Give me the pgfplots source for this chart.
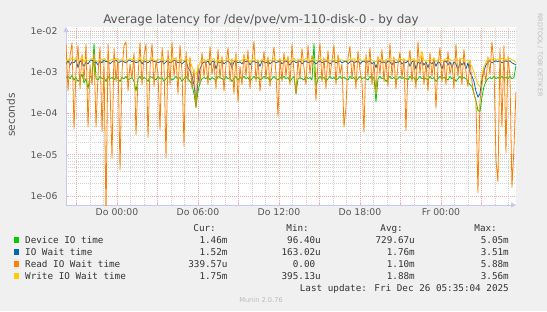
\documentclass[border=0pt]{standalone}
\usepackage{pgfplots}
\usepackage{pgfplotstable}
\pgfplotsset{compat=1.18}
\usepackage{fontspec}
\setmainfont{DejaVu Sans}
\newfontfamily\monofont{DejaVu Sans Mono}
\usetikzlibrary{arrows.meta}
\definecolor{bgc}{HTML}{F0F0F0}
\definecolor{cdev}{HTML}{00CC00}
\definecolor{cio}{HTML}{0066B3}
\definecolor{crd}{HTML}{FF8000}
\definecolor{cwr}{HTML}{FFCC00}
\definecolor{majgrid}{RGB}{238,175,175}
\definecolor{mingrid}{RGB}{210,210,210}
\definecolor{axiscol}{RGB}{200,200,240}
\definecolor{txt}{HTML}{555555}
\definecolor{legtxt}{HTML}{333333}
\definecolor{wm}{HTML}{BBBBBB}

% values in milliseconds, one row every ~8.9 minutes from Wed 20:13
\pgfplotstableread{
dev io rd wr
0.75 1.6 4.8 1.8
0.8 1.9 0.35 2.1
0.7 1.5 2.5 1.9
0.85 1.8 5.2 2.2
0.65 1.7 0.042 2.0
0.75 2.0 1.2 2.3
0.6 1.3 4.5 1.9
0.7 1.9 0.4 2.0
0.9 1.7 2.8 2.4
0.55 1.4 0.6 1.8
0.7 1.8 4.9 2.1
0.4 1.6 0.047 1.9
0.8 1.9 1.5 2.0
0.75 2.0 0.5 2.2
5.0 1.7 3.2 2.0
0.7 1.8 0.047 1.9
0.65 1.5 0.9 1.8
0.8 1.9 4.2 2.1
0.7 1.7 0.036 2.0
0.75 2.0 1.8 2.2
0.6 1.8 0.0003 1.9
0.8 1.9 5.0 2.0
0.7 1.6 0.4 1.9
0.75 1.8 0.0083 2.1
0.65 1.9 3.8 2.0
0.8 2.0 0.6 2.2
0.7 1.7 2.2 1.9
0.6 1.8 0.0043 2.0
0.75 1.9 1.1 2.1
0.7 1.8 4.5 2.0
0.8 1.7 5.5 1.9
0.65 1.9 0.35 2.0
0.7 2.0 1.6 2.2
0.75 1.8 0.7 2.0
0.6 1.9 3.0 2.1
0.35 1.7 0.03 1.9
0.7 1.8 0.8 2.0
0.8 2.0 5.3 2.3
0.65 1.6 0.5 1.9
0.75 1.9 2.6 2.0
0.7 1.8 4.8 2.1
0.6 1.7 0.026 1.9
0.8 1.9 1.3 2.0
0.75 2.0 5.0 2.2
0.7 1.8 0.45 2.0
0.65 1.9 2.0 1.9
0.8 1.7 0.9 2.1
0.7 1.8 0.04 2.0
0.75 1.9 4.0 2.2
0.6 1.6 1.4 1.9
0.7 1.8 0.0083 2.0
0.8 1.9 3.5 2.1
0.75 1.7 0.5 2.0
0.65 1.8 5.4 1.9
0.7 2.0 0.8 2.2
0.8 1.9 2.3 2.0
0.7 1.7 0.3 1.9
0.75 1.8 4.6 2.1
0.6 1.6 1.0 2.0
0.7 1.8 0.016 1.9
0.8 1.9 3.3 2.2
0.7 1.3 0.6 2.0
0.6 1.1 2.4 1.8
0.5 0.8 0.4 1.4
0.3 0.5 1.2 1.0
0.14 0.19 0.14 0.9
0.35 0.6 1.5 1.3
0.55 1.2 0.5 1.7
0.7 1.6 3.0 2.0
0.75 1.8 0.8 2.1
0.7 1.7 2.0 1.9
0.8 1.9 0.5 2.1
0.65 1.5 4.2 1.8
0.75 1.8 0.9 2.0
0.7 1.9 1.8 2.2
0.6 1.2 0.4 1.7
0.8 1.8 3.6 2.0
0.75 1.7 0.7 1.9
0.7 1.9 2.5 2.1
0.65 1.6 0.35 1.9
0.8 1.8 1.5 2.0
0.7 1.9 4.0 2.2
0.75 1.7 0.6 2.0
0.6 1.3 2.2 1.8
0.7 1.8 0.3 2.0
0.8 1.9 3.1 2.1
0.65 1.7 0.19 1.9
0.75 1.8 1.4 2.0
0.7 1.6 0.5 1.9
0.8 1.9 2.8 2.2
0.7 1.8 0.8 2.0
0.75 1.9 3.5 2.1
0.6 1.5 0.4 1.8
0.7 1.8 1.9 2.0
0.8 1.9 5.6 2.3
0.7 1.7 0.6 1.9
0.75 1.8 2.0 2.0
0.65 1.4 0.35 1.8
0.7 1.9 1.2 2.1
0.8 1.8 3.2 2.0
0.7 1.7 0.7 1.9
0.75 1.9 2.4 2.1
0.6 1.6 0.45 1.9
0.7 1.8 1.6 2.0
0.8 1.9 4.1 2.2
0.7 1.7 0.9 2.0
0.65 1.8 0.086 1.9
0.75 1.9 2.2 2.1
0.7 1.6 0.6 1.9
0.8 1.8 3.0 2.0
0.7 1.9 0.8 2.1
0.75 1.7 2.5 2.0
0.6 1.5 0.5 1.8
0.7 1.8 4.8 2.0
0.8 1.9 1.0 2.2
0.3 1.7 0.3 1.9
0.7 1.8 2.1 2.0
0.75 1.9 0.7 2.1
0.7 1.6 3.8 1.9
0.65 1.8 1.3 2.0
0.8 1.9 0.5 2.2
0.7 1.7 4.5 2.0
0.75 1.8 0.9 1.9
0.65 1.9 2.6 2.1
5.0 1.8 1.5 2.0
0.45 1.6 0.21 1.9
0.7 1.8 1.8 2.0
0.8 1.9 5.0 2.2
0.7 1.7 0.6 2.0
0.75 1.8 2.3 1.9
0.6 1.9 0.4 2.1
0.7 1.8 3.4 2.0
0.8 1.6 0.8 1.9
0.7 1.8 1.9 2.0
0.75 1.9 4.6 2.2
0.65 1.7 0.5 1.9
0.7 1.8 2.7 2.0
0.8 1.9 0.9 2.1
0.7 1.7 1.6 2.0
0.75 1.8 0.047 1.9
0.7 1.9 0.14 2.0
0.65 1.6 2.2 1.9
0.8 1.8 4.3 2.1
0.7 1.9 0.7 2.0
0.75 1.7 2.0 2.2
0.6 1.8 0.4 1.9
0.7 1.9 3.3 2.0
0.8 1.6 1.1 2.1
0.7 1.8 0.6 1.9
0.75 1.9 0.035 2.0
0.7 1.7 2.8 2.1
0.65 1.8 0.8 1.9
0.8 1.9 4.0 2.2
0.7 1.6 0.5 2.0
0.75 1.8 1.7 1.9
0.19 1.3 0.3 1.8
0.7 1.8 2.5 2.0
0.8 1.9 0.9 2.1
0.7 1.7 3.6 2.0
0.75 1.8 0.6 1.9
0.6 1.6 2.0 2.0
0.7 1.9 0.45 2.2
0.8 1.8 5.0 2.0
0.7 1.5 0.8 1.9
0.75 1.9 2.4 2.1
0.65 1.7 0.4 2.0
0.7 1.8 1.5 1.9
0.8 1.9 3.1 2.2
0.7 1.6 0.7 2.0
0.75 1.8 2.2 2.1
0.7 1.7 0.038 1.9
0.65 1.9 1.3 2.0
0.8 1.4 3.5 2.1
0.7 1.8 0.6 2.0
0.75 1.9 2.0 2.2
0.6 1.2 0.4 1.8
0.7 1.8 5.5 2.0
0.8 1.6 0.9 2.1
0.7 1.9 2.6 3.3
0.75 1.5 0.5 1.9
0.7 1.8 1.8 2.0
0.65 1.3 0.35 1.9
0.8 1.8 3.0 2.1
0.7 1.6 0.8 2.0
0.75 1.9 2.3 2.2
0.6 1.4 0.135 1.8
0.7 1.8 1.4 2.0
0.8 1.7 4.0 2.1
0.7 1.2 0.6 1.9
0.75 1.8 2.0 2.0
0.7 1.9 0.5 2.2
0.65 1.5 3.2 2.0
0.8 1.8 0.9 2.1
0.7 1.3 1.7 1.9
0.75 1.8 0.4 2.0
0.6 1.6 4.8 2.1
0.7 1.1 0.8 1.9
0.8 1.8 2.2 2.0
0.7 1.5 0.5 2.2
0.75 1.8 3.6 2.0
0.7 1.2 1.0 1.9
0.6 1.7 0.45 2.0
0.5 1.0 2.0 1.6
0.45 0.8 0.6 1.4
0.3 0.6 0.3 1.0
0.2 0.35 0.2 0.7
0.12 0.25 0.0012 0.5
0.11 0.3 0.2 0.45
0.25 0.7 0.5 0.9
0.45 1.1 1.2 1.4
0.6 1.5 0.6 1.8
0.7 1.8 2.4 2.0
0.75 1.9 0.9 2.1
0.7 1.7 5.5 2.0
0.8 1.8 1.5 2.2
0.7 1.9 0.0075 2.0
0.75 1.8 0.0022 2.1
0.7 1.9 3.8 2.0
0.8 1.7 0.047 2.2
0.7 1.8 4.5 2.0
0.75 1.9 0.011 2.1
0.7 1.8 2.5 2.0
0.8 1.9 0.8 2.2
0.7 1.7 0.0016 2.0
0.75 1.6 0.014 1.9
1.46 1.52 0.34 1.75
}\lat

\begin{document}
\begin{tikzpicture}[x=1bp,y=1bp]
\fill[bgc] (0,0) rectangle (547,311);
\useasboundingbox (0,0) rectangle (547,311);
\begin{axis}[
  at={(66bp,106bp)}, anchor=south west,
  scale only axis, width=450bp, height=178bp,
  ymode=log,
  xmin=-3.78, xmax=29.56, ymin=6e-7, ymax=1.26e-2,
  axis background/.style={fill=white},
  axis x line*=bottom, axis y line*=left,
  axis line style={draw=axiscol, line width=0.8bp, -{Triangle[length=5bp,width=5bp]}},
  xtick={-3,0,...,27},
  xticklabels={,Do 00:00,,Do 06:00,,Do 12:00,,Do 18:00,,Fr 00:00,},
  minor xtick={-3,...,29},
  ytick={1e-6,1e-5,1e-4,1e-3,1e-2},
  yticklabels={1e-06,1e-05,1e-04,1e-03,1e-02},
  grid=both,
  major grid style={draw=majgrid, dash pattern=on 0.8bp off 1.2bp, line width=0.5bp},
  minor grid style={draw=mingrid, dash pattern=on 0.8bp off 1.2bp, line width=0.5bp},
  major tick length=2bp, minor tick length=0bp,
  tick style={draw=majgrid},
  tick label style={font=\fontsize{9.33}{11}\selectfont, text=txt},
  yticklabel style={xshift=-5bp},
  line join=round,
]
\addplot[cdev, line width=0.8bp] table[x expr=\coordindex*0.148148-3.778, y expr=\thisrow{dev}*0.001] {\lat};
\addplot[cio, line width=0.8bp] table[x expr=\coordindex*0.148148-3.778, y expr=\thisrow{io}*0.001] {\lat};
\addplot[crd, line width=0.8bp] table[x expr=\coordindex*0.148148-3.778, y expr=\thisrow{rd}*0.001] {\lat};
\addplot[cwr, line width=0.8bp] table[x expr=\coordindex*0.148148-3.778, y expr=\thisrow{wr}*0.001] {\lat};
\end{axis}
% title and labels
\node[anchor=base, text=txt, font=\fontsize{12}{14}\selectfont] at (261,287.2) {Average latency for /dev/pve/vm-110-disk-0 - by day};
\node[rotate=90, text=txt, font=\fontsize{10.67}{12}\selectfont] at (11,196) {seconds};
\node[rotate=-90, anchor=west, text=wm, font=\fontsize{6.5}{8}\selectfont, inner sep=0] at (540,298) {RRDTOOL / TOBI OETIKER};
% legend
\begin{scope}[every node/.style={font=\monofont\fontsize{9.33}{11}\selectfont, text=legtxt, inner sep=0}]
\node[anchor=base east] at (216,80) {Cur:};
\node[anchor=base east] at (309,80) {Min:};
\node[anchor=base east] at (403,80) {Avg:};
\node[anchor=base east] at (497,80) {Max:};
\fill[cdev] (13.5,68.5) rectangle (19,74);
\node[anchor=base west] at (25,68) {Device IO time};
\node[anchor=base east] at (227.7,68) {1.46m};
\node[anchor=base east] at (321,68) {96.40u};
\node[anchor=base east] at (415,68) {729.67u};
\node[anchor=base east] at (509,68) {5.05m};
\fill[cio] (13.5,56.5) rectangle (19,62);
\node[anchor=base west] at (25,56) {IO Wait time};
\node[anchor=base east] at (227.7,56) {1.52m};
\node[anchor=base east] at (321,56) {163.02u};
\node[anchor=base east] at (415,56) {1.76m};
\node[anchor=base east] at (509,56) {3.51m};
\fill[crd] (13.5,44.5) rectangle (19,50);
\node[anchor=base west] at (25,44) {Read IO Wait time};
\node[anchor=base east] at (227.7,44) {339.57u};
\node[anchor=base east] at (315.4,44) {0.00};
\node[anchor=base east] at (415,44) {1.10m};
\node[anchor=base east] at (509,44) {5.88m};
\fill[cwr] (13.5,32.5) rectangle (19,38);
\node[anchor=base west] at (25,32) {Write IO Wait time};
\node[anchor=base east] at (227.7,32) {1.75m};
\node[anchor=base east] at (321,32) {395.13u};
\node[anchor=base east] at (415,32) {1.88m};
\node[anchor=base east] at (509,32) {3.56m};
\node[anchor=base east] at (509,20) {Last update: Fri Dec 26 05:35:04 2025};
\end{scope}
\node[text=wm, font=\fontsize{6.67}{8}\selectfont] at (261,11) {Munin 2.0.76};
\end{tikzpicture}
\end{document}
